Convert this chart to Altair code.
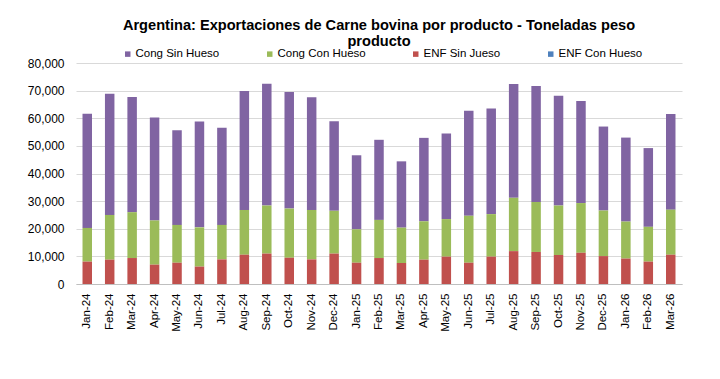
import altair as alt
import pandas as pd

months = ["Jan-24", "Feb-24", "Mar-24", "Apr-24", "May-24", "Jun-24", "Jul-24",
          "Aug-24", "Sep-24", "Oct-24", "Nov-24", "Dec-24", "Jan-25", "Feb-25",
          "Mar-25", "Apr-25", "May-25", "Jun-25", "Jul-25", "Aug-25", "Sep-25",
          "Oct-25", "Nov-25", "Dec-25", "Jan-26", "Feb-26", "Mar-26"]

enf_con_hueso = [0, 0, 0, 0, 0, 0, 0, 0, 0, 0, 0, 0, 0, 0,
                 0, 0, 0, 0, 0, 0, 0, 0, 0, 0, 0, 0, 0]
enf_sin_jueso = [8100, 8800, 9400, 7000, 7700, 6300, 8900, 10600, 11000, 9500,
                 8900, 11000, 7700, 9400, 7600, 8800, 9900, 7700, 9900, 11900,
                 11600, 10500, 11300, 10100, 9200, 8100, 10600]
cong_con_hueso = [12200, 16200, 16600, 16000, 13700, 14200, 12500, 16200, 17400,
                  17800, 17900, 15500, 12100, 13800, 12800, 13900, 13600, 17000,
                  15400, 19300, 18100, 17900, 18000, 16500, 13400, 12600, 16300]
cong_sin_hueso = [41300, 43900, 41700, 37300, 34300, 38300, 35200, 43100, 44100,
                  42200, 40800, 32400, 26800, 29000, 24000, 30200, 31000, 38000,
                  38200, 41200, 42000, 39700, 36900, 30400, 30400, 28500, 34600]

series_names = ["Cong Sin Hueso", "Cong Con Hueso", "ENF Sin Jueso", "ENF Con Hueso"]
series_colors = ["#8064A2", "#9BBB59", "#C0504D", "#4F81BD"]
stack_rank = {"ENF Con Hueso": 0, "ENF Sin Jueso": 1, "Cong Con Hueso": 2, "Cong Sin Hueso": 3}
y_ticks = [0, 10000, 20000, 30000, 40000, 50000, 60000, 70000, 80000]

series_values = {
    "Cong Sin Hueso": cong_sin_hueso,
    "Cong Con Hueso": cong_con_hueso,
    "ENF Sin Jueso": enf_sin_jueso,
    "ENF Con Hueso": enf_con_hueso,
}

rows = []
for name in series_names:
    for m, v in zip(months, series_values[name]):
        rows.append({"month": m, "series": name, "value": v, "rank": stack_rank[name]})
df = pd.DataFrame(rows)

FONT = "Liberation Sans"

chart = alt.Chart(df).mark_bar().encode(
    x=alt.X("month:N", sort=months,
            scale=alt.Scale(paddingInner=0.577, paddingOuter=0.29),
            axis=alt.Axis(title=None, labelAngle=-90, labelFontSize=11.5,
                          labelColor="#000000", labelFont=FONT, ticks=False,
                          tickSize=0, labelPadding=9, domainColor="#bfbfbf",
                          grid=False)),
    y=alt.Y("value:Q", stack="zero",
            scale=alt.Scale(domain=[0, 80000], nice=False),
            axis=alt.Axis(title=None, values=y_ticks, format=",.0f", labelFontSize=12,
                          labelColor="#000000", labelFont=FONT, ticks=False,
                          tickSize=0, labelPadding=12, domain=False,
                          gridColor="#d9d9d9")),
    color=alt.Color("series:N",
                    scale=alt.Scale(domain=series_names, range=series_colors),
                    legend=alt.Legend(title=None, orient="none", direction="horizontal",
                                      legendX=46, legendY=-15, symbolType="square",
                                      symbolSize=30, symbolStrokeWidth=0,
                                      labelFontSize=11.5, labelFont=FONT,
                                      labelColor="#000000", labelOffset=2,
                                      columnPadding=44, padding=0)),
    order=alt.Order("rank:Q", sort="ascending"),
).properties(
    width=606,
    height=221,
    autosize="none",
    padding={"left": 68, "top": 55, "right": 26, "bottom": 77},
    title=alt.TitleParams(
        text=["Argentina: Exportaciones de Carne bovina por producto - Toneladas peso",
              "producto"],
        fontSize=14.6, fontWeight="bold", font=FONT, color="#000000",
        anchor="middle", frame="group", lineHeight=16, offset=2, dy=3),
).configure_view(stroke=None)

chart.save("out.html", embed_options={"renderer": "svg", "actions": False})
